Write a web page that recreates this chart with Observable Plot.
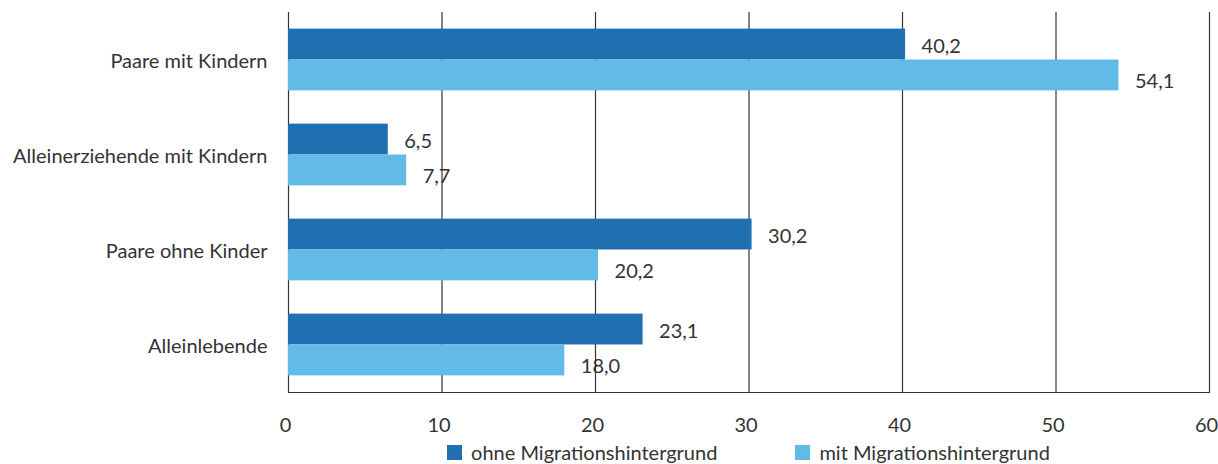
<!DOCTYPE html>
<html><head><meta charset="utf-8">
<script src="https://cdn.jsdelivr.net/npm/d3@7"></script>
<script src="https://cdn.jsdelivr.net/npm/@observablehq/plot@0.6"></script>
<style>
body{margin:0;background:#fff;font-family:Lato, sans-serif;color:#333}
#legend{display:flex;justify-content:center;margin-left:288px;width:921px;gap:78px;font-size:20px;height:26px;align-items:center}
.item{display:flex;align-items:center}
.sw{width:15px;height:15px;margin-right:9px}
</style></head><body><div id="chart"></div><div id="legend"></div>
<script>
const categories = ["Paare mit Kindern", "Alleinerziehende mit Kindern", "Paare ohne Kinder", "Alleinlebende"];
const series = ["ohne Migrationshintergrund", "mit Migrationshintergrund"];
const ohne = [40.2, 6.5, 30.2, 23.1];
const mit = [54.1, 7.7, 20.2, 18.0];
const xTicks = [0, 10, 20, 30, 40, 50, 60];
const colors = ["#206fb0", "#62bbe6"];

const fmt = d3.formatLocale({decimal: ",", thousands: ".", grouping: [3], currency: ["", "€"]}).format(".1f");
const rowsOhne = categories.map((c, i) => ({cat: c, value: ohne[i], series: series[0]}));
const rowsMit = categories.map((c, i) => ({cat: c, value: mit[i], series: series[1]}));

const chart = Plot.plot({
  width: 1218,
  height: 439,
  marginLeft: 288,
  marginRight: 9,
  marginTop: 12,
  marginBottom: 47,
  style: {fontFamily: "Lato, sans-serif", fontSize: "20px", color: "#333", background: "#fff"},
  x: {domain: [0, 60], ticks: xTicks, label: null, axis: null},
  y: {domain: categories, paddingInner: 0.35, paddingOuter: 0.175, round: false, axis: null},
  marks: [
    Plot.ruleX(xTicks, {stroke: "#333", strokeWidth: 1.2}),
    Plot.axisX(xTicks, {tickSize: 0, tickPadding: 25, tickFormat: d => d, dx: -3, label: null, fill: "#333"}),
    Plot.axisY(categories, {tickSize: 0, tickPadding: 21, dy: 2, label: null, fill: "#333"}),
    Plot.barX(rowsOhne, {x: "value", y: "cat", fill: colors[0], insetBottom: 30.9}),
    Plot.barX(rowsMit, {x: "value", y: "cat", fill: colors[1], insetTop: 30.9}),
    Plot.frame({anchor: "bottom", stroke: "#333", strokeWidth: 1.2}),
    Plot.text(rowsOhne, {x: "value", y: "cat", text: d => fmt(d.value), dx: 16, dy: -13, textAnchor: "start", fill: "#333"}),
    Plot.text(rowsMit, {x: "value", y: "cat", text: d => fmt(d.value), dx: 16, dy: 22, textAnchor: "start", fill: "#333"})
  ]
});
document.getElementById("chart").appendChild(chart);

const legend = d3.select("#legend");
series.forEach((s, i) => {
  const it = legend.append("div").attr("class", "item");
  it.append("div").attr("class", "sw").style("background", colors[i]);
  it.append("span").text(s);
});
</script></body></html>
